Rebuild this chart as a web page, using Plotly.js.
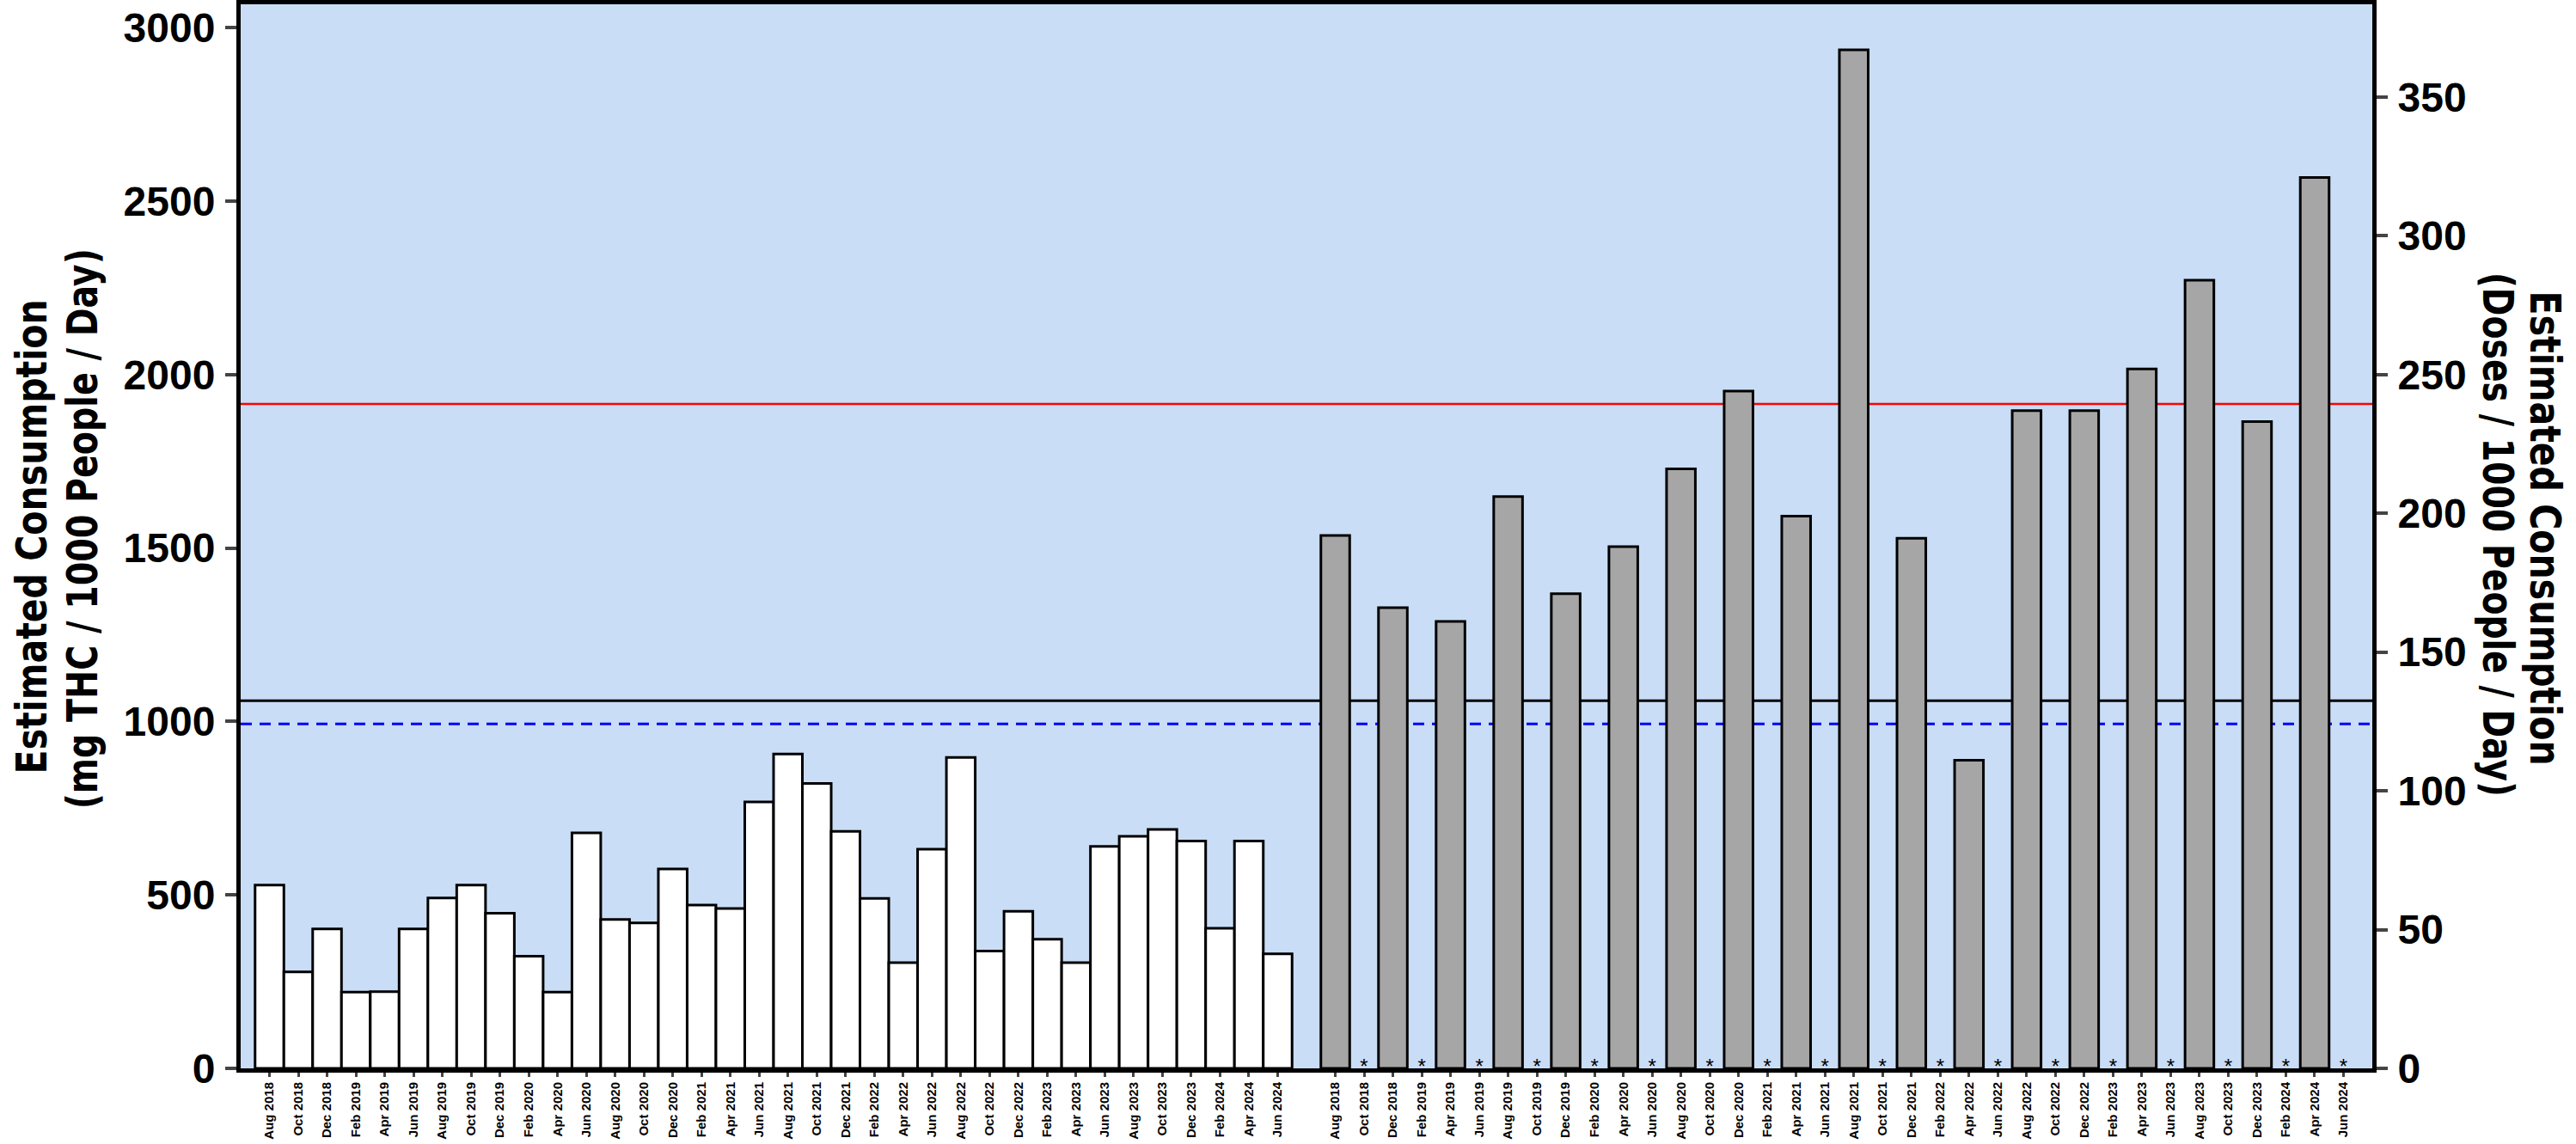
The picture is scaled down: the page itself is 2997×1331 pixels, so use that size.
<!DOCTYPE html>
<html>
<head>
<meta charset="utf-8">
<script src="https://cdn.plot.ly/plotly-3.0.1.min.js"></script>
<style>
html,body{margin:0;padding:0;background:#ffffff;}
#chart{width:2997px;height:1331px;}
</style>
</head>
<body>
<div id="chart"></div>
<script>
// ---- data ----
const monthLabels = [
  "Aug 2018","Oct 2018","Dec 2018","Feb 2019","Apr 2019","Jun 2019",
  "Aug 2019","Oct 2019","Dec 2019","Feb 2020","Apr 2020","Jun 2020",
  "Aug 2020","Oct 2020","Dec 2020","Feb 2021","Apr 2021","Jun 2021",
  "Aug 2021","Oct 2021","Dec 2021","Feb 2022","Apr 2022","Jun 2022",
  "Aug 2022","Oct 2022","Dec 2022","Feb 2023","Apr 2023","Jun 2023",
  "Aug 2023","Oct 2023","Dec 2023","Feb 2024","Apr 2024","Jun 2024"
];
// mg THC / 1000 people / day (left axis)
const thcValues = [
  528, 278, 402, 220, 221, 402,
  491, 528, 447, 323, 220, 679,
  429, 419, 575, 471, 461, 768,
  906, 821, 683, 490, 305, 632,
  896, 338, 453, 372, 305, 640,
  669, 689, 655, 404, 655, 330
];
// doses / 1000 people / day (right axis)
const doseMonths = [
  "Aug 2018","Dec 2018","Apr 2019","Aug 2019","Dec 2019","Apr 2020",
  "Aug 2020","Dec 2020","Apr 2021","Aug 2021","Dec 2021","Apr 2022",
  "Aug 2022","Dec 2022","Apr 2023","Aug 2023","Dec 2023","Apr 2024"
];
const doseValues = [
  192, 166, 161, 206, 171, 188,
  216, 244, 199, 367, 191, 111,
  237, 237, 252, 284, 233, 321
];
// months with no dose sample (marked with *)
const missingMonths = [
  "Oct 2018","Feb 2019","Jun 2019","Oct 2019","Feb 2020","Jun 2020",
  "Oct 2020","Feb 2021","Jun 2021","Oct 2021","Feb 2022","Jun 2022",
  "Oct 2022","Feb 2023","Jun 2023","Oct 2023","Feb 2024","Jun 2024"
];
const missingMarks = missingMonths.map(() => "*");
const missingBase = missingMonths.map(() => 0);
// reference lines (mg THC scale)
const refRed = 1915;
const refBlack = 1060;
const refBlue = 993;
const leftMax = 3067;
const doseRatio = 8;   // right axis = left axis / 8

// axis titles
const leftTitle1 = "Estimated Consumption";
const leftTitle2 = "(mg THC / 1000 People / Day)";
const rightTitle1 = "Estimated Consumption";
const rightTitle2 = "(Doses / 1000 People / Day)";

// ---- layout geometry ----
const W = 2997, H = 1331;
const mL = 280, mR = 237, mT = 5, mB = 88;
const pw = W - mL - mR, ph = H - mT - mB;
const px = x => (x - mL) / pw;
const py = y => (H - mB - y) / ph;

const tickFont = {family: "Liberation Sans, Arial, sans-serif", size: 48, color: "#000", weight: "bold"};
const xTickFont = {family: "Liberation Sans, Arial, sans-serif", size: 15, color: "#000", weight: "bold"};
const titleFont = {family: "Liberation Sans Narrow, Arial Narrow, DejaVu Sans Condensed, sans-serif", size: 50, color: "#000", weight: "bold"};

const traces = [
  {
    type: "bar", x: monthLabels, y: thcValues, xaxis: "x", yaxis: "y",
    width: 1,
    marker: {color: "#ffffff", line: {color: "#000000", width: 3}},
    hoverinfo: "x+y", showlegend: false
  },
  {
    type: "bar", x: doseMonths, y: doseValues, xaxis: "x2", yaxis: "y2",
    width: 1,
    marker: {color: "#A6A6A6", line: {color: "#000000", width: 3}},
    hoverinfo: "x+y", showlegend: false
  },
  {
    type: "scatter", mode: "text", x: missingMonths, y: missingBase,
    text: missingMarks, textposition: "middle center",
    textfont: {family: "Liberation Sans, Arial, sans-serif", size: 24, color: "#000"},
    xaxis: "x2", yaxis: "y2", cliponaxis: false, hoverinfo: "skip", showlegend: false
  }
];

const xCommon = {
  type: "category", categoryorder: "array", categoryarray: monthLabels,
  range: [-1, 36], showline: true, linewidth: 5, linecolor: "#000", mirror: true,
  ticks: "outside", ticklen: 5, tickwidth: 3, tickcolor: "#444",
  tickangle: -90, tickfont: xTickFont, showgrid: false, zeroline: false,
  fixedrange: true
};
const yCommon = {
  showline: true, linewidth: 5, linecolor: "#000", mirror: false,
  ticks: "outside", ticklen: 13, tickwidth: 4, tickcolor: "#444",
  tickfont: tickFont, showgrid: false, zeroline: false, tick0: 0,
  ticklabelstandoff: 2, fixedrange: true
};

const layout = {
  width: W, height: H,
  margin: {l: mL, r: mR, t: mT, b: mB, pad: 0},
  paper_bgcolor: "#ffffff",
  plot_bgcolor: "#C9DDF6",
  bargap: 0,
  showlegend: false,
  xaxis: Object.assign({}, xCommon, {domain: [0, 0.5], anchor: "y"}),
  xaxis2: Object.assign({}, xCommon, {domain: [0.5, 1], anchor: "y2"}),
  yaxis: Object.assign({}, yCommon, {range: [0, leftMax], dtick: 500, anchor: "x", side: "left"}),
  yaxis2: Object.assign({}, yCommon, {range: [0, leftMax / doseRatio], dtick: 50, anchor: "x2", side: "right"}),
  shapes: [
    {type: "line", layer: "below", xref: "paper", yref: "y", x0: 0, x1: 1, y0: refRed, y1: refRed,
     line: {color: "#FF0000", width: 2.5}},
    {type: "line", layer: "below", xref: "paper", yref: "y", x0: 0, x1: 1, y0: refBlack, y1: refBlack,
     line: {color: "#000000", width: 3}},
    {type: "line", layer: "below", xref: "paper", yref: "y", x0: 0, x1: 1, y0: refBlue, y1: refBlue,
     line: {color: "#0000FF", width: 3, dash: "13px,9px"}}
  ],
  annotations: [
    {text: leftTitle1, xref: "paper", yref: "paper", x: px(37), y: py(625),
     textangle: -90, showarrow: false, xanchor: "center", yanchor: "middle", font: titleFont},
    {text: leftTitle2, xref: "paper", yref: "paper", x: px(96), y: py(616),
     textangle: -90, showarrow: false, xanchor: "center", yanchor: "middle", font: titleFont},
    {text: rightTitle1, xref: "paper", yref: "paper", x: px(2961), y: py(614),
     textangle: 90, showarrow: false, xanchor: "center", yanchor: "middle", font: titleFont},
    {text: rightTitle2, xref: "paper", yref: "paper", x: px(2906), y: py(622),
     textangle: 90, showarrow: false, xanchor: "center", yanchor: "middle", font: titleFont}
  ]
};

// target rendered lengths of the condensed axis-title lines (px)
const titleLengths = {};
titleLengths[leftTitle1] = 552;
titleLengths[leftTitle2] = 652;
titleLengths[rightTitle2] = 610;

Plotly.newPlot("chart", traces, layout, {displayModeBar: false, staticPlot: true}).then(gd => {
  gd.querySelectorAll("text.annotation-text").forEach(t => {
    const len = titleLengths[t.textContent.trim()];
    if (len) {
      t.setAttribute("textLength", len);
      t.setAttribute("lengthAdjust", "spacingAndGlyphs");
    }
  });
});
</script>
</body>
</html>
